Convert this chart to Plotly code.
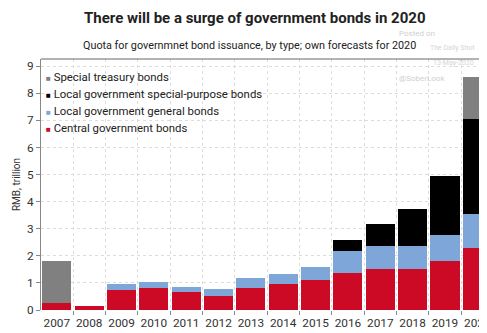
import plotly.graph_objects as go

years = ["2007", "2008", "2009", "2010", "2011", "2012", "2013",
         "2014", "2015", "2016", "2017", "2018", "2019", "2020"]
central = [0.25, 0.16, 0.74, 0.80, 0.68, 0.52, 0.83, 0.95, 1.11, 1.38, 1.52, 1.52, 1.81, 2.28]
local_general = [0, 0, 0.21, 0.22, 0.18, 0.26, 0.35, 0.37, 0.49, 0.80, 0.85, 0.85, 0.94, 1.27]
local_special = [0, 0, 0, 0, 0, 0, 0, 0, 0, 0.41, 0.82, 1.36, 2.18, 3.51]
special_treasury = [1.55, 0, 0, 0, 0, 0, 0, 0, 0, 0, 0, 0, 0, 1.52]

series = [
    ("Central government bonds", central, "#cc0a25"),
    ("Local government general bonds", local_general, "#7ea6d8"),
    ("Local government special-purpose bonds", local_special, "#000000"),
    ("Special treasury bonds", special_treasury, "#808080"),
]

# page body has an 8px margin; layout in screen pixels, shifted
OFF = 8
W, H = 487 - OFF, 333 - OFF
L, R, T, B = 41 - OFF, 0, 59 - OFF, 23
pw, ph = W - L - R, H - T - B

def px(x):
    return (x - OFF - L) / pw

def py(y):
    return (H - B - (y - OFF)) / ph

FONT = "Roboto"

fig = go.Figure()
for name, vals, col in series:
    fig.add_trace(go.Bar(x=years, y=vals, name=name, marker_color=col,
                         marker_line_width=0, showlegend=False))

fig.update_layout(
    width=W, height=H,
    margin=dict(l=L, r=R, t=T, b=B, autoexpand=False),
    barmode="stack", bargap=0.1,
    plot_bgcolor="white", paper_bgcolor="white",
    font=dict(family=FONT, size=11, color="#333333"),
)
fig.update_xaxes(
    type="category", range=[-0.49, 13.3], tickson="boundaries", tickangle=0,
    ticks="outside", ticklen=4, tickcolor="#888888", automargin=False,
    ticklabelstandoff=4,
    showgrid=True, gridcolor="#dddddd", griddash="dot", gridwidth=1,
    showline=False, tickfont=dict(size=11.8, color="#333333"),
)
fig.update_yaxes(
    range=[0, 9.26], dtick=1, ticks="outside", ticklen=4, tickcolor="#888888",
    showgrid=True, gridcolor="#dddddd", griddash="dot", gridwidth=1, automargin=False,
    showline=True, linecolor="#888888", linewidth=1, zeroline=False,
    tickfont=dict(size=11.8, color="#333333"),
    title=dict(text="RMB, trillion", font=dict(size=10, color="#333333"), standoff=4),
)

# top border line
fig.add_shape(type="line", xref="paper", yref="paper", x0=0, x1=1, y0=1, y1=1,
              line=dict(color="#666666", width=1))

anns = [
    dict(text="<b>There will be a surge of government bonds in 2020</b>", x=px(255), y=py(18),
         font=dict(size=15, color="#222222")),
    dict(text="Quota for governmnet bond issuance, by type; own forecasts for 2020", x=px(249), y=py(45),
         font=dict(size=10.8, color="#222222")),
    dict(text="Posted on", x=px(417), y=py(33), font=dict(size=8, color="#cfcfcf")),
    dict(text="The Daily Shot", x=px(452), y=py(48), font=dict(size=7, color="#d5d5d5")),
    dict(text="13-May-2020", x=px(453), y=py(63), font=dict(size=7, color="#d5d5d5")),
    dict(text="@SoberLook", x=px(422), y=py(78), font=dict(size=8, color="#cfcfcf")),
]
for a in anns:
    fig.add_annotation(xref="paper", yref="paper", showarrow=False,
                       xanchor="center", yanchor="middle", **a)

legend_rows = [series[3], series[2], series[1], series[0]]
for i, (name, _, col) in enumerate(legend_rows):
    fig.add_annotation(
        xref="paper", yref="paper", showarrow=False, xanchor="left", yanchor="middle",
        x=px(44), y=py(76.5 + i * 17.3),
        text=f'<span style="color:{col};font-size:8px">■</span> {name}',
        font=dict(size=11.4, color="#222222"),
    )

fig.write_html("out.html")
